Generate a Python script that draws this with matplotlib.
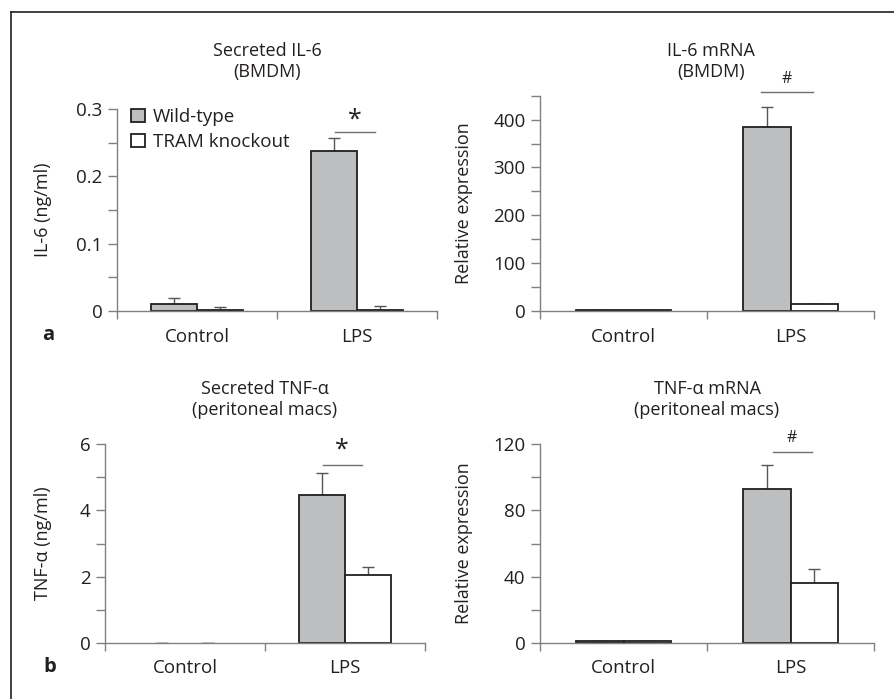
import numpy as np
import matplotlib
matplotlib.use('Agg')
import matplotlib.pyplot as plt
from matplotlib.patches import Patch
from matplotlib.lines import Line2D
from matplotlib.ticker import MultipleLocator, FixedLocator, FuncFormatter

# Data
groups = ['Control', 'LPS']

il6_wt = [0.010, 0.238]
il6_wt_err = [0.010, 0.019]
il6_ko = [0.002, 0.002]
il6_ko_err = [0.004, 0.005]

il6_mrna_wt = [2.0, 384.0]
il6_mrna_wt_err = [0.0, 43.0]
il6_mrna_ko = [2.0, 14.0]
il6_mrna_ko_err = [0.0, 0.0]

tnf_wt = [0.0, 4.47]
tnf_wt_err = [0.0, 0.65]
tnf_ko = [0.0, 2.05]
tnf_ko_err = [0.0, 0.23]

tnf_mrna_wt = [1.0, 93.0]
tnf_mrna_wt_err = [0.0, 14.3]
tnf_mrna_ko = [1.0, 36.3]
tnf_mrna_ko_err = [0.0, 8.1]

legend_labels = ['Wild-type', 'TRAM knockout']

plt.rcParams['font.family'] = ['Open Sans', 'DejaVu Sans']

DARK = '#231f20'
GRAY_FILL = '#bcbec0'
SPINE = '#808080'
W, H = 894, 699

fig = plt.figure(figsize=(W / 100, H / 100), dpi=100)


def px_axes(left, top, right, bottom):
    return fig.add_axes([left / W, 1 - bottom / H, (right - left) / W, (bottom - top) / H])


def draw_panel(ax, wt, wt_err, ko, ko_err, ymax, major, minor, ylabel, ylab_x):
    x = np.arange(len(groups))
    bw = 0.285
    for xs, vals, fc in ((x - bw / 2, wt, GRAY_FILL), (x + bw / 2, ko, 'white')):
        lws = [1.3 if v > 0 else 0 for v in vals]
        ax.bar(xs, vals, bw, color=fc, edgecolor=DARK, linewidth=lws, zorder=2)
    for xs, vals, errs in ((x - bw / 2, wt, wt_err), (x + bw / 2, ko, ko_err)):
        ax.errorbar(xs, vals, yerr=[np.zeros(len(errs)), errs], fmt='none',
                    ecolor='#555555', elinewidth=1.0, capsize=4, capthick=1.0, zorder=1)
    ax.set_xlim(-0.5, 1.5)
    ax.set_ylim(0, ymax)
    for s in ('top', 'right'):
        ax.spines[s].set_visible(False)
    for s in ('left', 'bottom'):
        ax.spines[s].set_color(SPINE)
        ax.spines[s].set_linewidth(1.0)
        ax.spines[s].set_zorder(3)
    ax.set_xticks(x)
    ax.set_xticklabels(groups, fontsize=13.5, color=DARK)
    ax.xaxis.set_minor_locator(FixedLocator([-0.5, 0.5, 1.5]))
    ax.tick_params(axis='x', which='major', length=0, pad=12)
    ax.tick_params(axis='x', which='minor', length=6, width=1.0, color=SPINE, direction='out')
    ax.yaxis.set_major_locator(MultipleLocator(major))
    ax.yaxis.set_minor_locator(MultipleLocator(minor))
    ax.tick_params(axis='y', which='both', length=6.5, width=1.0, color=SPINE,
                   direction='out', labelsize=13.5, labelcolor=DARK, pad=4)
    ax.set_ylabel(ylabel, fontsize=13, color=DARK)
    ax.yaxis.set_label_coords(ylab_x, 0.5)


def sig_mark(ax, x0, x1, y, sym, size, dy):
    ax.plot([x0, x1], [y, y], color='#6d6e71', lw=1.0, clip_on=False)
    ax.text((x0 + x1) / 2, y + dy, sym, ha='center', va='center', fontsize=size,
            color=DARK, clip_on=False)


# Panel a, left
ax1 = px_axes(117, 109, 437, 311)
draw_panel(ax1, il6_wt, il6_wt_err, il6_ko, il6_ko_err, 0.3, 0.1, 0.05,
           'IL-6 (ng/ml)', -0.203)
ax1.yaxis.set_major_formatter(FuncFormatter(lambda v, p: '0' if v == 0 else f'{v:.1f}'))
sig_mark(ax1, 0.86, 1.11, 0.266, '*', 18, 0.018)
handles = [Patch(facecolor=GRAY_FILL, edgecolor=DARK, linewidth=1.3),
           Patch(facecolor='white', edgecolor=DARK, linewidth=1.3)]
ax1.legend(handles, legend_labels, loc='upper left', bbox_to_anchor=(0.045, 1.005),
           frameon=False, fontsize=13.5, handlelength=0.75, handleheight=0.75,
           handletextpad=0.4, labelspacing=0.38, borderpad=0, borderaxespad=0,
           labelcolor=DARK)

# Panel a, right
ax2 = px_axes(540, 95.7, 874, 311)
draw_panel(ax2, il6_mrna_wt, il6_mrna_wt_err, il6_mrna_ko, il6_mrna_ko_err, 450, 100, 50,
           'Relative expression', -0.2)
sig_mark(ax2, 0.823, 1.135, 457, '#', 11.5, 27)

# Panel b, left
ax3 = px_axes(105, 444.3, 425, 642.7)
draw_panel(ax3, tnf_wt, tnf_wt_err, tnf_ko, tnf_ko_err, 6, 2, 1,
           'TNF-α (ng/ml)', -0.166)
sig_mark(ax3, 0.86, 1.104, 5.38, '*', 18, 0.45)

# Panel b, right
ax4 = px_axes(540, 444.3, 874, 642.7)
draw_panel(ax4, tnf_mrna_wt, tnf_mrna_wt_err, tnf_mrna_ko, tnf_mrna_ko_err, 120, 40, 20,
           'Relative expression', -0.2)
sig_mark(ax4, 0.893, 1.127, 115.6, '#', 11.5, 8)

# Titles
titles = [('Secreted IL-6\n(BMDM)', 267, 61.5),
          ('IL-6 mRNA\n(BMDM)', 711, 61.5),
          ('Secreted TNF-α\n(peritoneal macs)', 265, 399.5),
          ('TNF-α mRNA\n(peritoneal macs)', 707, 399.5)]
for txt, xp, yp in titles:
    fig.text(xp / W, 1 - yp / H, txt, ha='center', va='center', fontsize=13,
             color=DARK, linespacing=1.25)

# Panel letters
fig.text(48 / W, 1 - 335 / H, 'a', ha='center', va='center', fontsize=14.5,
         fontweight='bold', color=DARK)
fig.text(50 / W, 1 - 667 / H, 'b', ha='center', va='center', fontsize=14.5,
         fontweight='bold', color=DARK)

# Outer frame (left and top edges only)
fig.add_artist(Line2D([11 / W, 11 / W], [0, 1 - 12 / H], color=DARK, lw=1.2,
                      transform=fig.transFigure))
fig.add_artist(Line2D([11 / W, 1], [1 - 12 / H, 1 - 12 / H], color=DARK, lw=1.2,
                      transform=fig.transFigure))

fig.savefig('out.png', dpi=100)
